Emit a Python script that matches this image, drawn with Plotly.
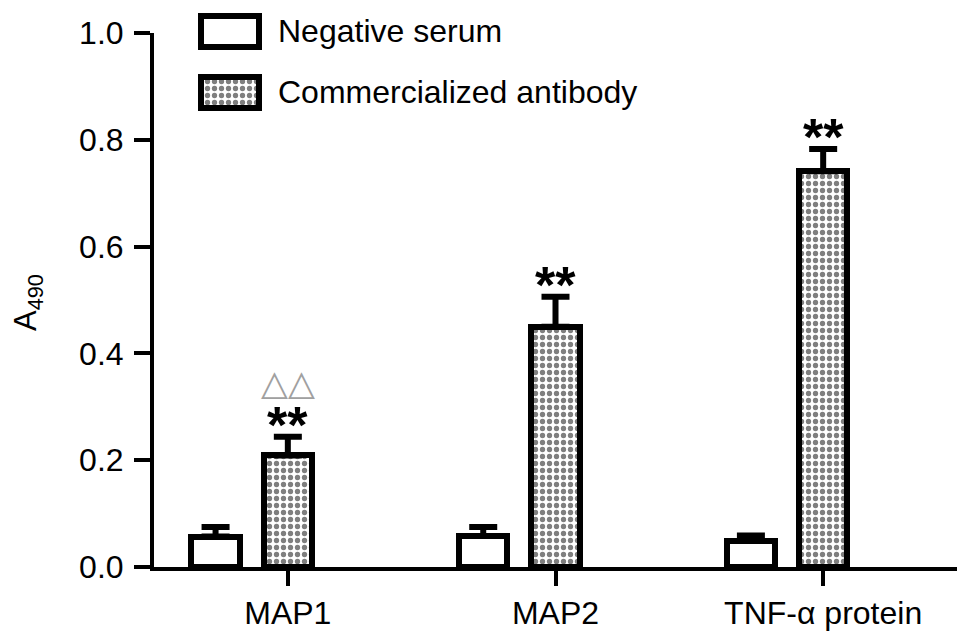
"""ELISA absorbance (A490) bar chart."""

import plotly.graph_objects as go

categories = ["MAP1", "MAP2", "TNF-α protein"]
legend_names = ["Negative serum", "Commercialized antibody"]

negative_mean = [0.057, 0.058, 0.049]
negative_err = [0.018, 0.017, 0.010]
antibody_mean = [0.209, 0.450, 0.741]
antibody_err = [0.035, 0.056, 0.042]

star_labels = ["**", "**", "**"]
triangle_labels = ["△△", "", ""]

y_ticks = [0.0, 0.2, 0.4, 0.6, 0.8, 1.0]

font_family = "Liberation Sans, Arial, sans-serif"
dots = {"shape": ".", "fgcolor": "black", "bgcolor": "white", "size": 7, "solidity": 0.45}

# the page body adds an 8px margin, so the figure is 8px smaller each way
W, H = 962, 636
L, R, T, B = 146, 13, 0, 77
plot_w, plot_h = W - L - R, H - T - B

fig = go.Figure()

fig.add_bar(
    x=categories,
    y=negative_mean,
    name=legend_names[0],
    width=0.18,
    offset=-0.36,
    marker={"color": "white", "line": {"color": "black", "width": 6}},
    error_y={
        "type": "data",
        "array": negative_err,
        "arrayminus": [0] * len(negative_err),
        "color": "black",
        "thickness": 6,
        "width": 14,
    },
    showlegend=False,
)
fig.add_bar(
    x=categories,
    y=antibody_mean,
    name=legend_names[1],
    width=0.18,
    offset=-0.09,
    marker={"color": "white", "pattern": dots, "line": {"color": "black", "width": 6}},
    error_y={
        "type": "data",
        "array": antibody_err,
        "arrayminus": [0] * len(antibody_err),
        "color": "black",
        "thickness": 6,
        "width": 14,
    },
    showlegend=False,
)

# legend swatches drawn on a small overlay axis so the pattern shows
fig.add_bar(
    y=legend_names[::-1],
    x=[1, 1],
    base=0,
    orientation="h",
    width=0.52,
    marker={
        "color": "white",
        "pattern": {**dots, "shape": [".", ""]},
        "line": {"color": "black", "width": 6},
    },
    xaxis="x2",
    yaxis="y2",
    showlegend=False,
    hoverinfo="skip",
)

for name in legend_names:
    fig.add_annotation(
        text=name,
        xref="x2",
        yref="y2",
        x=1.19,
        y=name,
        xanchor="left",
        yanchor="middle",
        xshift=6,
        showarrow=False,
        font={"size": 32, "color": "black", "family": font_family},
    )

for cat, mean, err, star, tri in zip(categories, antibody_mean, antibody_err, star_labels, triangle_labels):
    fig.add_annotation(
        text=f"<b>{star}</b>",
        x=cat,
        y=mean + err,
        yanchor="middle",
        yshift=12,
        showarrow=False,
        font={"size": 52, "color": "black", "family": font_family},
    )
    if tri:
        fig.add_annotation(
            text=tri,
            x=cat,
            y=mean + err,
            yanchor="middle",
            yshift=54,
            showarrow=False,
            font={"size": 35, "color": "#a0a0a0", "family": "DejaVu Sans"},
        )

fig.add_annotation(
    text="A<sub>490</sub>",
    xref="paper",
    yref="paper",
    x=(-2 - L) / plot_w,
    y=(T + plot_h - 295) / plot_h,
    textangle=-90,
    showarrow=False,
    font={"size": 31, "color": "black", "family": font_family},
)

fig.update_layout(
    width=W,
    height=H,
    margin={"l": L, "r": R, "t": T, "b": B, "autoexpand": False},
    plot_bgcolor="white",
    paper_bgcolor="white",
    font={"family": font_family, "size": 32, "color": "black"},
    bargap=0,
    xaxis={
        "type": "category",
        "range": [-0.5, 2.5],
        "automargin": False,
        "showline": True,
        "linecolor": "black",
        "linewidth": 4,
        "ticks": "outside",
        "ticklen": 15,
        "tickwidth": 4,
        "tickcolor": "black",
        "ticklabelstandoff": 0,
        "showgrid": False,
        "zeroline": False,
    },
    yaxis={
        "domain": [0, (plot_h - 25) / plot_h],
        "range": [0, 1.0],
        "automargin": False,
        "tickvals": y_ticks,
        "tickformat": ".1f",
        "showline": True,
        "linecolor": "black",
        "linewidth": 4,
        "ticks": "outside",
        "ticklen": 16,
        "tickwidth": 4,
        "tickcolor": "black",
        "ticklabelstandoff": 4,
        "showgrid": False,
        "zeroline": False,
    },
    xaxis2={
        "domain": [(182 - L) / plot_w, (262 - L) / plot_w],
        "range": [-0.19, 1.19],
        "anchor": "y2",
        "visible": False,
    },
    yaxis2={
        "domain": [0.78, 1.0],
        "range": [-0.631, 1.385],
        "type": "category",
        "categoryorder": "array",
        "categoryarray": legend_names[::-1],
        "anchor": "x2",
        "visible": False,
    },
)

fig.write_html("out.html")
